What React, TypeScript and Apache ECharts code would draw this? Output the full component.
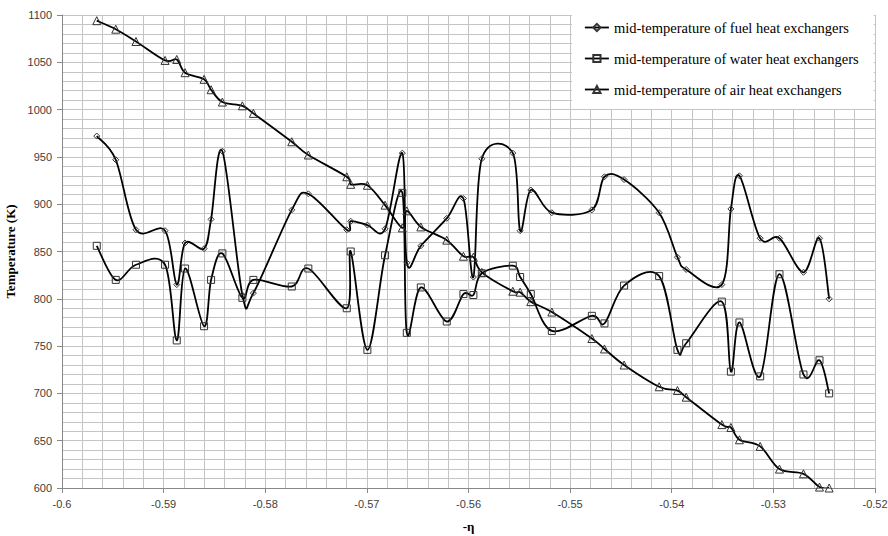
import React, { useEffect, useRef } from "react";
import * as echarts from "echarts";

const etaValues = [
  -0.59658, -0.59471, -0.59272, -0.58986, -0.58871, -0.58789, -0.58602, -0.58533, -0.58422, -0.58225,
  -0.58117, -0.57739, -0.57576, -0.57198, -0.57159, -0.56995, -0.56821, -0.56651, -0.56607, -0.56469,
  -0.56214, -0.5605, -0.55952, -0.55869, -0.55564, -0.55492, -0.55387, -0.5518, -0.54786, -0.54662,
  -0.54469, -0.54124, -0.53944, -0.53858, -0.53507, -0.53418, -0.53334, -0.5313, -0.5294, -0.52704,
  -0.52546, -0.52451,
];

const fuelTemps = [
  972, 947, 873, 872, 815, 859, 853, 884, 956, 804,
  806, 894, 911, 873, 882, 878, 874, 954, 838, 856,
  885, 906, 823, 948, 954, 872, 915, 891, 894, 929,
  926, 891, 844, 831, 815, 895, 930, 864, 864, 828,
  864, 800,
];

const waterTemps = [
  856, 820, 836, 836, 756, 832, 771, 820, 848, 801,
  820, 813, 832, 790, 850, 746, 846, 912, 764, 812,
  776, 805, 804, 827, 835, 823, 805, 766, 782, 774,
  814, 824, 746, 753, 797, 723, 775, 718, 826, 720,
  735, 700,
];

const airTemps = [
  1094, 1085, 1072, 1052, 1053, 1039, 1032, 1021, 1008, 1004,
  996, 966, 952, 929, 921, 920, 899, 875, 893, 876,
  862, 845, 844, 828, 808, 807, 797, 786, 758, 747,
  730, 707, 703, 696, 667, 664, 651, 644, 620, 615,
  601, 600,
];

const seriesNames = [
  "mid-temperature of fuel heat exchangers",
  "mid-temperature of water heat exchangers",
  "mid-temperature of air heat exchangers",
];

export default function App() {
  const ref = useRef<HTMLDivElement>(null);

  useEffect(() => {
    if (!ref.current) return;
    const chart = echarts.init(ref.current, undefined, { renderer: "svg" });
    const toPairs = (ys: number[]) => etaValues.map((x, i) => [x, ys[i]]);
    const lineColor = "#000";
    const lineWidth = 1.8;

    // Excel-like smoothed curve (Catmull-Rom through the points, in pixel space)
    const curve = (id: string, ys: number[]) => ({
      id,
      name: id,
      type: "custom",
      coordinateSystem: "cartesian2d",
      clip: true,
      silent: true,
      z: 2,
      data: [[etaValues[0], ys[0]]],
      encode: { x: 0, y: 1 },
      renderItem: (_params: any, api: any) => {
        const pts = etaValues.map((x, i) => api.coord([x, ys[i]]));
        const n = pts.length;
        let d = `M${pts[0][0]},${pts[0][1]}`;
        for (let i = 0; i < n - 1; i++) {
          const p0 = pts[Math.max(0, i - 1)];
          const p1 = pts[i];
          const p2 = pts[i + 1];
          const p3 = pts[Math.min(n - 1, i + 2)];
          const t = 1 / 6;
          const c1x = p1[0] + (p2[0] - p0[0]) * t;
          const c1y = p1[1] + (p2[1] - p0[1]) * t;
          const c2x = p2[0] - (p3[0] - p1[0]) * t;
          const c2y = p2[1] - (p3[1] - p1[1]) * t;
          d += ` C${c1x},${c1y} ${c2x},${c2y} ${p2[0]},${p2[1]}`;
        }
        return {
          type: "path",
          shape: { pathData: d },
          style: { stroke: lineColor, lineWidth, fill: "none" },
        };
      },
    });

    const markers = (name: string, ys: number[], symbol: string, size: number) => ({
      name,
      type: "line",
      data: toPairs(ys),
      symbol,
      symbolSize: size,
      showSymbol: true,
      z: 3,
      lineStyle: { color: lineColor, width: lineWidth, opacity: 0 },
      itemStyle: { color: "rgba(255,255,255,0)", borderColor: "#333", borderWidth: 1 },
      emphasis: { disabled: true },
    });
    const legendLine = { color: lineColor, width: lineWidth, opacity: 1 };
    const gridColor = "#c4c4c4";
    chart.setOption({
      animation: false,
      backgroundColor: "#fff",
      grid: { left: 62, right: 13, top: 15, bottom: 48, outerBoundsMode: "none", containLabel: false },
      legend: {
        orient: "vertical",
        left: 572,
        top: 14,
        itemGap: 14,
        itemWidth: 24,
        itemHeight: 9,
        padding: [5, 15, 11, 12],
        backgroundColor: "#fff",
        lineStyle: legendLine,
        textStyle: { fontFamily: "Liberation Serif", fontSize: 14.5, color: "#000", lineHeight: 17 },
        data: seriesNames.map((name) => ({ name, lineStyle: legendLine })),
        z: 10,
      },
      xAxis: {
        type: "value",
        min: -0.6,
        max: -0.52,
        interval: 0.01,
        name: "-η",
        nameLocation: "middle",
        nameGap: 32,
        nameTextStyle: { fontFamily: "Liberation Serif", fontWeight: "bold", fontSize: 13, color: "#000" },
        axisLine: { show: true, onZero: false, lineStyle: { color: "#888" } },
        axisTick: { show: true, length: 5, lineStyle: { color: "#888" } },
        axisLabel: {
          fontFamily: "Liberation Sans",
          fontSize: 11,
          color: "#404040",
          margin: 10,
          formatter: (v: number) => String(+v.toFixed(2)),
        },
        splitLine: { show: true, lineStyle: { color: gridColor, width: 1 } },
        minorTick: { show: false, splitNumber: 5 },
        minorSplitLine: { show: true, lineStyle: { color: gridColor, width: 1 } },
      },
      yAxis: {
        type: "value",
        min: 600,
        max: 1100,
        interval: 50,
        name: "Temperature (K)",
        nameLocation: "middle",
        nameGap: 45,
        nameRotate: 90,
        nameTextStyle: { fontFamily: "Liberation Serif", fontWeight: "bold", fontSize: 13, color: "#000" },
        axisLine: { show: true, lineStyle: { color: "#888" } },
        axisTick: { show: true, length: 5, lineStyle: { color: "#888" } },
        axisLabel: {
          fontFamily: "Liberation Sans",
          fontSize: 11,
          color: "#404040",
          margin: 10,
          formatter: (v: number) => String(v),
        },
        splitLine: { show: true, lineStyle: { color: gridColor, width: 1 } },
        minorTick: { show: false, splitNumber: 5 },
        minorSplitLine: { show: true, lineStyle: { color: gridColor, width: 1 } },
      },
      series: [
        curve("fuel-curve", fuelTemps),
        curve("water-curve", waterTemps),
        curve("air-curve", airTemps),
        markers(seriesNames[0], fuelTemps, "diamond", 6),
        markers(seriesNames[1], waterTemps, "rect", 7),
        markers(seriesNames[2], airTemps, "triangle", 8),
      ],
    });
    return () => chart.dispose();
  }, []);

  return (
    <div
      ref={ref}
      style={{ position: "absolute", left: 0, top: 0, width: 888, height: 536 }}
    />
  );
}
